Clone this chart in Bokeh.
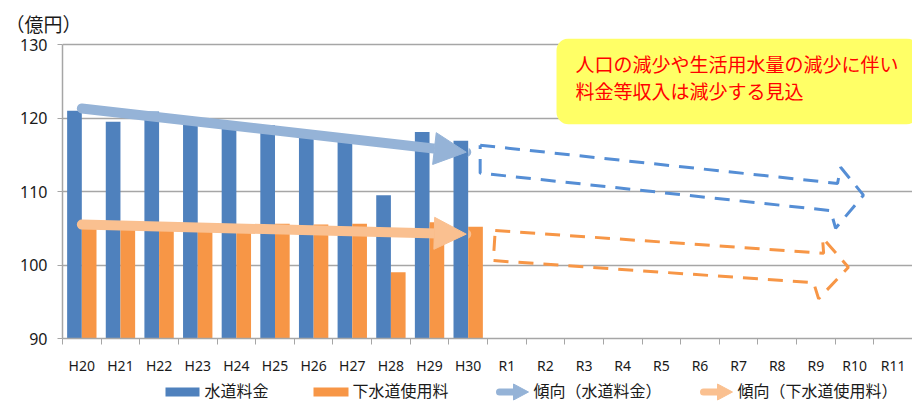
from bokeh.plotting import figure
from bokeh.layouts import column
from bokeh.models import Range1d, FixedTicker, Label, Arrow, NormalHead
from bokeh.core.properties import value
from bokeh.embed import file_html
from bokeh.resources import INLINE

# ---------------- data ----------------
years = ["H20", "H21", "H22", "H23", "H24", "H25", "H26", "H27", "H28", "H29", "H30",
         "R1", "R2", "R3", "R4", "R5", "R6", "R7", "R8", "R9", "R10", "R11"]
actual_years = years[:11]
water_fee = [121.0, 119.5, 120.9, 119.2, 118.6, 119.0, 117.8, 117.3, 109.5, 118.1, 116.9]
sewer_fee = [105.2, 104.9, 105.0, 105.0, 105.1, 105.6, 105.5, 105.6, 99.0, 105.8, 105.2]

# trend arrows (category index, value)
trend_water_x = [0, 9.95]
trend_water_y = [121.3, 115.35]
trend_sewer_x = [0, 9.95]
trend_sewer_y = [105.5, 104.2]

# projected (dashed) arrow outlines
proj_water_x = [10.31, 19.56, 19.64, 20.23, 19.51, 19.38, 10.31, 10.31]
proj_water_y = [116.3, 111.1, 113.3, 109.5, 105.0, 107.4, 112.5, 116.3]
proj_sewer_x = [10.70, 19.20, 19.17, 19.84, 19.07, 18.94, 10.65, 10.70]
proj_sewer_y = [104.7, 101.6, 103.7, 99.7, 95.4, 97.6, 100.6, 104.7]

y_ticks = [90, 100, 110, 120, 130]
unit_text = "（億円）"
note_text = "人口の減少や生活用水量の減少に伴い\n料金等収入は減少する見込"
legend_labels = ["水道料金", "下水道使用料", "傾向（水道料金）", "傾向（下水道使用料）"]

# ---------------- colours ----------------
C_WATER = "#4F81BD"
C_SEWER = "#F79646"
C_TW = "#95B3D7"
C_TS = "#FAC090"
C_PW = "#558ED5"
C_PS = "#F79646"
GRID = "#A6A6A6"
TXT = "#1a1a1a"
JP = "Noto Sans CJK JP"

# ---------------- layout helpers (page px -> data) ----------------
X0, X1 = -0.5, 21.5
FL, FW = 62, 850          # frame left / width (page px)
Y130, PXY = 44, 294 / 40  # page y of the 130 line, px per unit
FTOP = 38                 # frame top (page px), a little above the 130 line


def dx(px):
    return X0 + (px - FL) * (X1 - X0) / FW


def dy(py):
    return 130 - (py - Y130) / PXY


MAIN_H = 377
p = figure(width=912, height=MAIN_H, output_backend="svg", toolbar_location=None,
           x_range=Range1d(X0, X1), y_range=Range1d(90, dy(FTOP)),
           min_border_left=FL, min_border_right=0, min_border_top=FTOP,
           min_border_bottom=MAIN_H - 338)
p.outline_line_color = None

# unit label as title
p.title.text = unit_text
p.title.text_font = JP
p.title.text_font_size = "19px"
p.title.text_font_style = "normal"
p.title.text_color = TXT
p.title.align = "left"
p.title.offset = -57
p.title.standoff = 4

# bars
xs = list(range(len(actual_years)))
p.vbar(x=[x - 0.19 for x in xs], top=water_fee, bottom=90, width=0.38,
       fill_color=C_WATER, line_color=None)
p.vbar(x=[x + 0.19 for x in xs], top=sewer_fee, bottom=90, width=0.38,
       fill_color=C_SEWER, line_color=None)

# projected dashed arrows
p.line(proj_water_x, proj_water_y, line_color=C_PW, line_width=3, line_dash="15 10")
p.line(proj_sewer_x, proj_sewer_y, line_color=C_PS, line_width=3, line_dash="15 10")

# trend arrows
for tx, ty, c in [(trend_water_x, trend_water_y, C_TW), (trend_sewer_x, trend_sewer_y, C_TS)]:
    p.add_layout(Arrow(x_start=tx[0], y_start=ty[0], x_end=tx[1], y_end=ty[1],
                       line_color=c, line_width=10, line_cap="round",
                       end=NormalHead(size=32, fill_color=c, line_color=c, line_width=1)))

# axes
p.xgrid.grid_line_color = None
p.ygrid.grid_line_color = GRID
p.ygrid.grid_line_width = 1.5
p.ygrid.ticker = FixedTicker(ticks=y_ticks)

p.xaxis.ticker = FixedTicker(ticks=list(range(len(years))),
                             minor_ticks=[i + 0.5 for i in range(-1, len(years))])
p.xaxis.major_label_overrides = {i: y for i, y in enumerate(years)}
p.xaxis.major_tick_out = 0
p.xaxis.major_tick_in = 0
p.xaxis.minor_tick_out = 6
p.xaxis.minor_tick_in = 0
p.xaxis.minor_tick_line_color = GRID
p.xaxis.axis_line_color = GRID
p.xaxis.axis_line_width = 1.5
p.xaxis.major_label_text_font = "Noto Sans"
p.xaxis.major_label_text_font_size = "14px"
p.xaxis.major_label_text_color = TXT
p.xaxis.major_label_standoff = 11

p.yaxis.ticker = FixedTicker(ticks=y_ticks)
p.yaxis.bounds = (90, 130)
p.yaxis.minor_tick_line_color = None
p.yaxis.major_tick_out = 5
p.yaxis.major_tick_in = 0
p.yaxis.major_tick_line_color = GRID
p.yaxis.axis_line_color = GRID
p.yaxis.axis_line_width = 1.5
p.yaxis.major_label_text_font = "Noto Sans"
p.yaxis.major_label_text_font_size = "16px"
p.yaxis.major_label_text_color = TXT
p.yaxis.major_label_standoff = 10

# note box
p.add_layout(Label(x=dx(556), y=dy(38), text=note_text, text_align="left",
                   text_baseline="top", text_font=JP, text_font_size="19px",
                   text_color="#FF0000", text_line_height=1.03,
                   background_fill_color="#FFFF66", border_radius=12,
                   padding=dict(left=19, right=20, top=11, bottom=20)))

# ---------------- legend row (own small canvas, page-pixel coordinates) ----------------
LH = 401 - MAIN_H
leg = figure(width=912, height=LH, output_backend="svg", toolbar_location=None,
             x_range=Range1d(FL, FL + FW), y_range=Range1d(0, LH), min_border=0,
             x_axis_type=None, y_axis_type=None)
leg.outline_line_color = None
leg.grid.visible = False
LYc = 401 - 391.5
leg.quad(left=[165, 313], right=[199, 348], bottom=[LYc - 4.5] * 2, top=[LYc + 4.5] * 2,
         fill_color=[C_WATER, C_SEWER], line_color=None)
for a, b, c in [(499, 514, C_TW), (703, 718, C_TS)]:
    leg.line([a, b], [LYc, LYc], line_color=c, line_width=7, line_cap="round")
    leg.patch([b - 1, b - 1, b + 14], [LYc - 8, LYc + 8, LYc], fill_color=c, line_color=c)
leg.text(x=[204, 352, 533, 737], y=[LH / 2] * 4, text=legend_labels, text_baseline="middle",
         text_align="left", text_font=value(JP), text_font_size="16px", text_color=TXT)

layout = column(p, leg, spacing=0)
open("out.html", "w").write(file_html(layout, INLINE))
